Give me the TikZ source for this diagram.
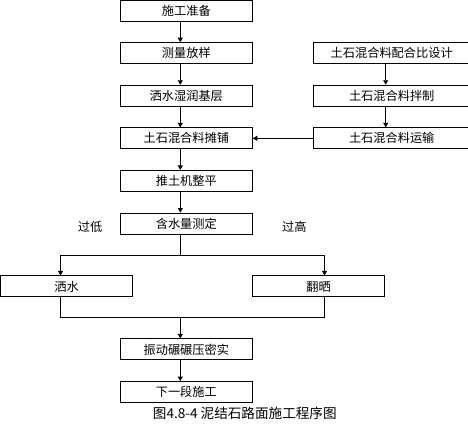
\documentclass[tikz,border=0pt]{standalone}
\usepackage{fontspec}
\setmainfont{Noto Sans CJK SC}
\usetikzlibrary{arrows.meta,positioning}

\begin{document}
\begin{tikzpicture}[
  node distance=20.7pt and 60pt,
  every node/.style={font=\fontsize{12.2pt}{14pt}\selectfont},
  proc/.style={rectangle, draw, line width=0.9pt, align=center, inner sep=1pt, minimum width=132pt, minimum height=21pt},
  wide/.style={proc, minimum width=157pt},
  arrow/.style={-{Triangle[width=5pt,length=4.5pt]}, line width=0.9pt},
  line/.style={line width=0.9pt}
]
\useasboundingbox (0,0) rectangle (468pt,-424pt);
\clip (0,0) rectangle (468pt,-424pt);

\node[proc] (zb) at (186.3pt,-10.5pt) {施工准备};
\node[proc, below=of zb] (cl) {测量放样};
\node[proc, below=of cl] (ss) {洒水湿润基层};
\node[proc, below=of ss] (tp) {土石混合料摊铺};
\node[proc, below=of tp] (tj) {推土机整平};
\node[proc, below=of tj] (hsl) {含水量测定};

\node[wide, right=of cl] (pb) {土石混合料配合比设计};
\node[wide, below=of pb] (bz) {土石混合料拌制};
\node[wide, below=of bz] (ys) {土石混合料运输};

\node[proc, below=41pt of hsl, xshift=-119.8pt] (sa) {洒水};
\node[proc, below=41pt of hsl, xshift=132.2pt] (fs) {翻晒};

\node (dl) at (90pt,-227pt) {过低};
\node (dg) at (294.3pt,-227pt) {过高};

\node[proc, below=104pt of hsl] (ny) {振动碾碾压密实};
\node[proc, below=of ny] (xyd) {下一段施工};

\node[font=\fontsize{13.6pt}{15pt}\selectfont] (cap) at (244.8pt,-413.3pt) {图4.8-4\ 泥结石路面施工程序图};

\coordinate (split) at ([xshift=-6pt,yshift=-21pt]hsl.south);
\coordinate (merge) at ([xshift=-6pt,yshift=21.3pt]ny.north);

% Arrows
\draw[arrow] ([xshift=-6pt]zb.south) -- ([xshift=-6pt]cl.north);
\draw[arrow] ([xshift=-6pt]cl.south) -- ([xshift=-6pt]ss.north);
\draw[arrow] ([xshift=-6pt]ss.south) -- ([xshift=-6pt]tp.north);
\draw[arrow] ([xshift=-6pt]tp.south) -- ([xshift=-6pt]tj.north);
\draw[arrow] ([xshift=-6pt]tj.south) -- ([xshift=-6pt]hsl.north);

\draw[arrow] ([xshift=-6pt]pb.south) -- ([xshift=-6pt]bz.north);
\draw[arrow] ([xshift=-6pt]bz.south) -- ([xshift=-6pt]ys.north);
\draw[arrow] (ys.west) -- (tp.east);

% branch on water content
\draw[line] ([xshift=-6pt]hsl.south) -- (split);
\draw[arrow] (split) -| ([xshift=-6pt]sa.north);
\draw[arrow] (split) -| ([xshift=6pt]fs.north);

\draw[line] ([xshift=-6pt]sa.south) |- (merge) -| ([xshift=6pt]fs.south);
\draw[arrow] (merge) -- ([xshift=-6pt]ny.north);
\draw[arrow] ([xshift=-6pt]ny.south) -- ([xshift=-6pt]xyd.north);

\end{tikzpicture}
\end{document}
